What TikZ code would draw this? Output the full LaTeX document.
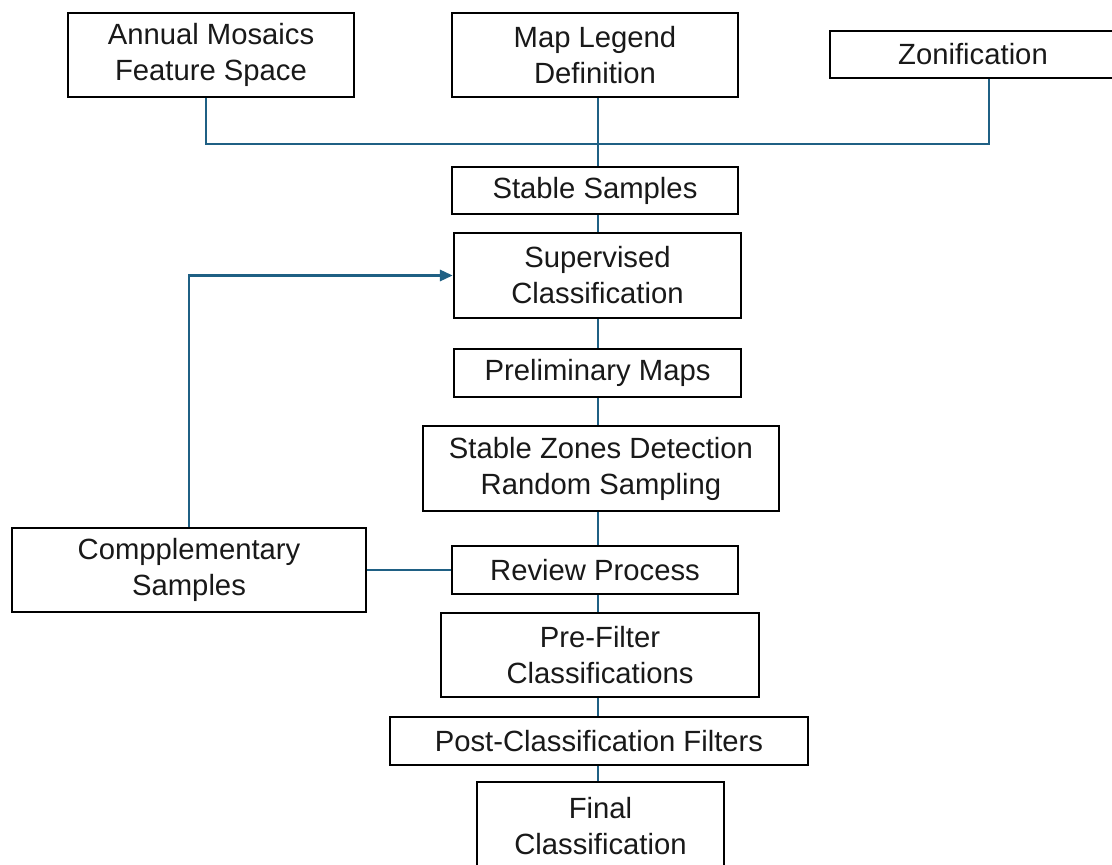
\documentclass[tikz,border=0pt]{standalone}
\usepackage{fontspec}
\setmainfont{Liberation Sans}
\usetikzlibrary{arrows.meta}
\definecolor{linkblue}{RGB}{31,96,132}
\tikzset{
  box/.style={draw=black, line width=2pt, fill=white, align=center, inner sep=0pt,
    font=\fontsize{20.8}{25.6}\selectfont, text=black!90},
  wh/.style 2 args={minimum width=#1*0.025cm, minimum height=#2*0.025cm},
  link/.style={draw=linkblue, line width=1.6pt},
}
\begin{document}
\begin{tikzpicture}[x=0.025cm, y=-0.025cm]
\useasboundingbox (0,0) rectangle (1112,865);
\clip (0,0) rectangle (1112,865);
\fill[white] (0,0) rectangle (1112,865);

% x positions of the vertical connectors
\coordinate (xa) at (206,0);
\coordinate (xs) at (598,0);
\coordinate (xz) at (989,0);
\coordinate (bus) at (598,144);

% inputs
\node[box, wh={286}{84}] (ams) at (211,55) {Annual Mosaics\\Feature Space};
\node[box, wh={286}{84}] (mld) at (595,55) {Map Legend\\Definition};
\node[box, wh={286}{47}] (zon) at (973,54.5) {Zonification};

% main chain
\node[box, wh={286}{47}] (ss)   at (595,190.5) {Stable Samples};
\node[box, wh={287}{85}] (sc)   at (597.5,275.5) {Supervised\\Classification};
\node[box, wh={287}{48}] (pm)   at (597.5,373) {Preliminary Maps};
\node[box, wh={356}{85}] (szd)  at (601,468.5) {Stable Zones Detection\\Random Sampling};
\node[box, wh={286}{48}] (rp)   at (595,570) {Review Process};
\node[box, wh={318}{84}] (pf)   at (600,655) {Pre-Filter\\Classifications};
\node[box, wh={418}{48}] (pcf)  at (599,741) {Post-Classification Filters};
\node[box, wh={247}{88}] (fc)   at (600.5,826) {Final\\Classification};

% feedback branch
\node[box, wh={354}{84}] (comp) at (189,570) {Compplementary\\Samples};

% input bus
\draw[link] (ams.south -| xa) |- (bus -| xz) -- (zon.south -| xz);
\draw[link] (mld.south -| xs) -- (ss.north -| xs);

% vertical spine
\draw[link] (ss.south -| xs)  -- (sc.north -| xs);
\draw[link] (sc.south -| xs)  -- (pm.north -| xs);
\draw[link] (pm.south -| xs)  -- (szd.north -| xs);
\draw[link] (szd.south -| xs) -- (rp.north -| xs);
\draw[link] (rp.south -| xs)  -- (pf.north -| xs);
\draw[link] (pf.south -| xs)  -- (pcf.north -| xs);
\draw[link] (pcf.south -| xs) -- (fc.north -| xs);

% complementary samples links
\draw[link] (comp.east) -- (rp.west);
\draw[link, -{Triangle[length=9pt,width=8pt]}] (comp.north) |- (sc.west);
\end{tikzpicture}
\end{document}
